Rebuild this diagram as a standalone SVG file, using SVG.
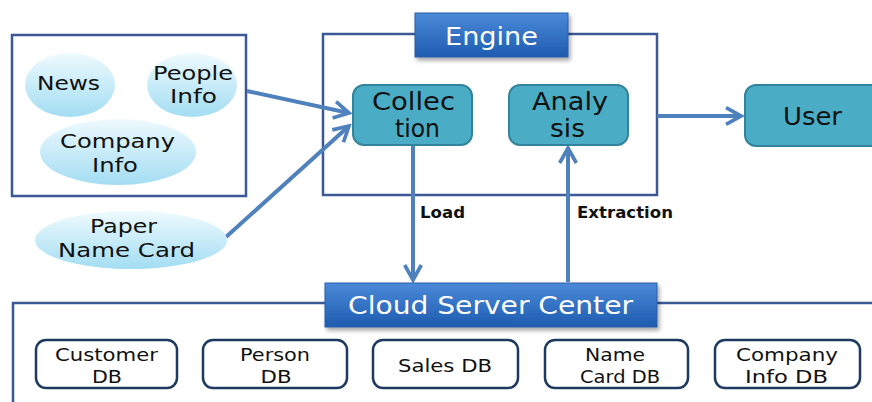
<svg xmlns="http://www.w3.org/2000/svg" width="872" height="402" viewBox="0 0 872 402">
<defs>
  <linearGradient id="gEll" x1="0" y1="0" x2="0" y2="1">
    <stop offset="0" stop-color="#eefafe"/>
    <stop offset="1" stop-color="#a3ddf2"/>
  </linearGradient>
  <linearGradient id="gLab" x1="0" y1="0" x2="0" y2="1">
    <stop offset="0" stop-color="#4a8ad8"/>
    <stop offset="1" stop-color="#1f5bb0"/>
  </linearGradient>
  <filter id="sh" x="-10%" y="-20%" width="130%" height="160%">
    <feDropShadow dx="2" dy="3" stdDeviation="2" flood-color="#000" flood-opacity="0.35"/>
  </filter>
  <marker id="ah" viewBox="0 0 12 12" refX="10" refY="6" markerWidth="5" markerHeight="5" orient="auto" markerUnits="strokeWidth">
    <path d="M1,1 L10,6 L1,11" fill="none" stroke="#4f81bd" stroke-width="2.2"/>
  </marker>
</defs>
<style>
  text { font-family: "DejaVu Sans", "Noto Sans", sans-serif; text-anchor: middle; fill: #111; }
  .frame { fill: #fff; stroke: #3b5a95; stroke-width: 2.5; }
  .ell { fill: url(#gEll); stroke: none; }
  .et { font-size: 20px; }
  .lab { fill: url(#gLab); stroke: #2a5ca8; stroke-width: 1; filter: url(#sh); }
  .lt { font-size: 24px; fill: #fff; }
  .proc { fill: #4bacc6; stroke: #31849b; stroke-width: 2; }
  .pt { font-size: 24px; }
  .db { fill: #fff; stroke: #1f3a60; stroke-width: 2.5; }
  .dt { font-size: 18px; }
  .conn { stroke: #4f81bd; stroke-width: 4; fill: none; marker-end: url(#ah); }
  .cl { font-size: 15px; font-weight: bold; text-anchor: start; }
</style>
<rect width="872" height="402" fill="#fff"/>

<g id="sources">
  <rect class="frame" x="12" y="35" width="234" height="161"/>
</g>
<g id="engine-frame">
  <rect class="frame" x="323" y="34" width="334" height="161"/>
</g>
<g id="cloud-frame">
  <rect class="frame" x="13" y="303" width="870" height="120"/>
</g>

<g id="connectors">
  <line class="conn" x1="247" y1="91" x2="349" y2="113"/>
  <line class="conn" x1="226" y1="237" x2="349" y2="126"/>
  <line class="conn" x1="657" y1="116" x2="741" y2="116"/>
  <line class="conn" x1="413" y1="146" x2="413" y2="280"/>
  <line class="conn" x1="568" y1="282" x2="568" y2="148"/>
  <text class="cl" x="420" y="218" textLength="45" lengthAdjust="spacingAndGlyphs">Load</text>
  <text class="cl" x="577" y="218" textLength="96" lengthAdjust="spacingAndGlyphs">Extraction</text>
</g>

<g id="news">
  <ellipse class="ell" cx="70" cy="85" rx="45" ry="32"/>
  <text class="et" x="68.5" y="90" textLength="63" lengthAdjust="spacingAndGlyphs">News</text>
</g>
<g id="people-info">
  <ellipse class="ell" cx="192" cy="85" rx="45" ry="32"/>
  <text class="et" x="193" y="80" textLength="80" lengthAdjust="spacingAndGlyphs">People</text>
  <text class="et" x="193.5" y="103" textLength="47" lengthAdjust="spacingAndGlyphs">Info</text>
</g>
<g id="company-info">
  <ellipse class="ell" cx="118" cy="152" rx="78" ry="33"/>
  <text class="et" x="117.5" y="148" textLength="115" lengthAdjust="spacingAndGlyphs">Company</text>
  <text class="et" x="115" y="172" textLength="46" lengthAdjust="spacingAndGlyphs">Info</text>
</g>
<g id="paper-name-card">
  <ellipse class="ell" cx="131" cy="240" rx="96" ry="29"/>
  <text class="et" x="123.5" y="233" textLength="67" lengthAdjust="spacingAndGlyphs">Paper</text>
  <text class="et" x="126.5" y="257" textLength="137" lengthAdjust="spacingAndGlyphs">Name Card</text>
</g>

<g id="engine">
  <rect class="lab" x="415" y="13" width="153" height="44"/>
  <text class="lt" x="491.5" y="45" textLength="93" lengthAdjust="spacingAndGlyphs">Engine</text>
</g>
<g id="collection">
  <rect class="proc" x="353" y="85" width="119" height="60" rx="11"/>
  <text class="pt" x="413.5" y="110" textLength="83" lengthAdjust="spacingAndGlyphs">Collec</text>
  <text class="pt" x="417.5" y="137" textLength="45" lengthAdjust="spacingAndGlyphs">tion</text>
</g>
<g id="analysis">
  <rect class="proc" x="509" y="85" width="119" height="60" rx="11"/>
  <text class="pt" x="570" y="110" textLength="76" lengthAdjust="spacingAndGlyphs">Analy</text>
  <text class="pt" x="567.5" y="137" textLength="35" lengthAdjust="spacingAndGlyphs">sis</text>
</g>
<g id="user">
  <rect class="proc" x="745" y="85" width="140" height="61" rx="11"/>
  <text class="pt" x="812.5" y="125" textLength="59" lengthAdjust="spacingAndGlyphs">User</text>
</g>

<g id="cloud-server-center">
  <rect class="lab" x="325" y="283" width="332" height="44"/>
  <text class="lt" x="490.5" y="314" textLength="285" lengthAdjust="spacingAndGlyphs">Cloud Server Center</text>
</g>

<g id="customer-db">
  <rect class="db" x="36" y="340" width="141" height="48" rx="10"/>
  <text class="dt" x="106.5" y="361" textLength="103" lengthAdjust="spacingAndGlyphs">Customer</text>
  <text class="dt" x="107" y="383" textLength="30" lengthAdjust="spacingAndGlyphs">DB</text>
</g>
<g id="person-db">
  <rect class="db" x="203" y="340" width="144" height="48" rx="10"/>
  <text class="dt" x="275" y="361" textLength="70" lengthAdjust="spacingAndGlyphs">Person</text>
  <text class="dt" x="276" y="383" textLength="31" lengthAdjust="spacingAndGlyphs">DB</text>
</g>
<g id="sales-db">
  <rect class="db" x="373" y="340" width="145" height="48" rx="10"/>
  <text class="dt" x="445" y="372" textLength="94" lengthAdjust="spacingAndGlyphs">Sales DB</text>
</g>
<g id="name-card-db">
  <rect class="db" x="545" y="340" width="143" height="48" rx="10"/>
  <text class="dt" x="615" y="361" textLength="60" lengthAdjust="spacingAndGlyphs">Name</text>
  <text class="dt" x="620" y="383" textLength="80" lengthAdjust="spacingAndGlyphs">Card DB</text>
</g>
<g id="company-info-db">
  <rect class="db" x="715" y="340" width="145" height="48" rx="10"/>
  <text class="dt" x="787" y="361" textLength="102" lengthAdjust="spacingAndGlyphs">Company</text>
  <text class="dt" x="786.5" y="383" textLength="83" lengthAdjust="spacingAndGlyphs">Info DB</text>
</g>
</svg>
